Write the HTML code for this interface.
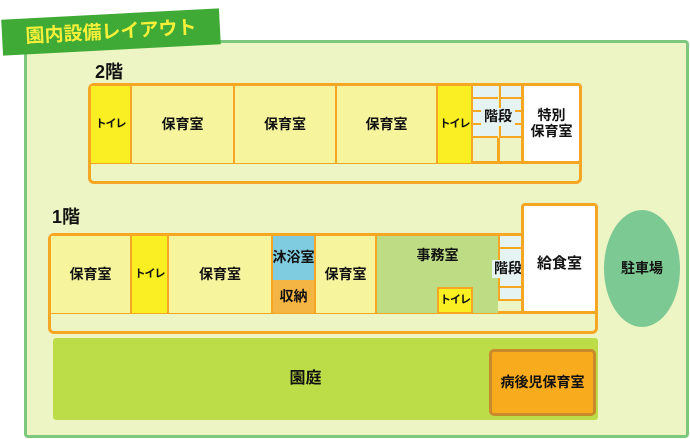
<!DOCTYPE html>
<html><head><meta charset="utf-8"><style>
body{margin:0;width:690px;height:439px;background:#fff;position:relative;overflow:hidden;font-family:"Liberation Sans","Noto Sans CJK JP",sans-serif;font-weight:bold;color:#111}
div{position:absolute;box-sizing:border-box}
.c{display:flex;align-items:center;justify-content:center;text-align:center;line-height:1.1;white-space:nowrap}
.r{background:#f6f59e;border-right:2px solid #f5a623}
.t{background:#f9ef22;border-right:2px solid #f5a623;font-size:11px;letter-spacing:-1px}
.f{font-size:14px}
.st{background:repeating-linear-gradient(#e5f3f3 0 11px,#f5a623 11px 13px)}
</style></head><body>
<div style="left:24px;top:40px;width:665px;height:398px;background:#eef5c4;border:3px solid #7dc87d;border-radius:4px"></div>
<div class="c" style="left:2px;top:14px;width:218px;height:36px;background:#3faa35;transform:rotate(-3deg);color:#f7f03a;font-size:19px;padding-top:2px">園内設備レイアウト</div>

<div style="left:95px;top:58px;font-size:18px">2階</div>
<div style="left:88px;top:83px;width:494px;height:101px;border:3px solid #f5a623;border-radius:6px;background:#eef5c4"></div>
<div style="left:90px;top:85px;width:490px;height:79px;border-bottom:3px solid #f5a623"></div>
<div class="c t" style="left:91px;top:86px;width:41px;height:77px">トイレ</div>
<div class="c r f" style="left:132px;top:86px;width:103px;height:77px">保育室</div>
<div class="c r f" style="left:235px;top:86px;width:102px;height:77px">保育室</div>
<div class="c r f" style="left:337px;top:86px;width:101px;height:77px">保育室</div>
<div class="c t" style="left:438px;top:86px;width:35px;height:77px">トイレ</div>
<div class="st" style="left:473px;top:86px;width:25px;height:52px"></div>
<div class="st" style="left:499px;top:86px;width:22px;height:52px;border-left:2px solid #f5a623"></div>
<div style="left:497px;top:138px;width:3px;height:25px;background:#f5a623"></div>
<div class="c f" style="left:481px;top:108px;width:34px;height:18px;background:#e5f3f3">階段</div>
<div class="c f" style="left:521px;top:83px;width:61px;height:81px;background:#fff;border:3px solid #f5a623;border-radius:4px">特別<br>保育室</div>

<div style="left:52px;top:203px;font-size:18px">1階</div>
<div style="left:48px;top:233px;width:550px;height:101px;border:3px solid #f5a623;border-radius:6px;background:#eef5c4"></div>
<div style="left:50px;top:235px;width:546px;height:79px;border-bottom:3px solid #f5a623"></div>
<div class="c r f" style="left:51px;top:236px;width:81px;height:77px">保育室</div>
<div class="c t" style="left:132px;top:236px;width:37px;height:77px">トイレ</div>
<div class="c r f" style="left:169px;top:236px;width:104px;height:77px">保育室</div>
<div class="c f" style="left:273px;top:236px;width:43px;height:44px;background:#7fcce0;border-right:2px solid #f5a623;align-items:flex-start;padding-top:14px">沐浴室</div>
<div class="c f" style="left:273px;top:280px;width:43px;height:33px;background:#f5b544;border-right:2px solid #f5a623">収納</div>
<div class="c r f" style="left:316px;top:236px;width:61px;height:77px">保育室</div>
<div class="c f" style="left:377px;top:236px;width:121px;height:77px;background:#bddc84;align-items:flex-start;padding-top:12px">事務室</div>
<div class="c t" style="left:437px;top:287px;width:36px;height:27px;border:2px solid #f5a623">トイレ</div>
<div class="st" style="left:498px;top:236px;width:24px;height:65px;border-left:2px solid #f5a623"></div>
<div class="c f" style="left:492px;top:260px;width:32px;height:18px;background:#e5f3f3">階段</div>
<div class="c" style="left:521px;top:203px;width:77px;height:111px;background:#fff;border:3px solid #f5a623;border-radius:4px;font-size:15px;align-items:flex-start;padding-top:50px">給食室</div>

<div class="c f" style="left:604px;top:210px;width:76px;height:117px;border-radius:50%;background:#7dc993">駐車場</div>

<div class="c" style="left:53px;top:338px;width:545px;height:82px;background:#bcdd47;border-radius:3px;font-size:16px;padding-right:40px">園庭</div>
<div class="c f" style="left:489px;top:349px;width:107px;height:67px;background:#f9ab1e;border:3px solid #c88a2a;border-radius:5px">病後児保育室</div>
</body></html>
